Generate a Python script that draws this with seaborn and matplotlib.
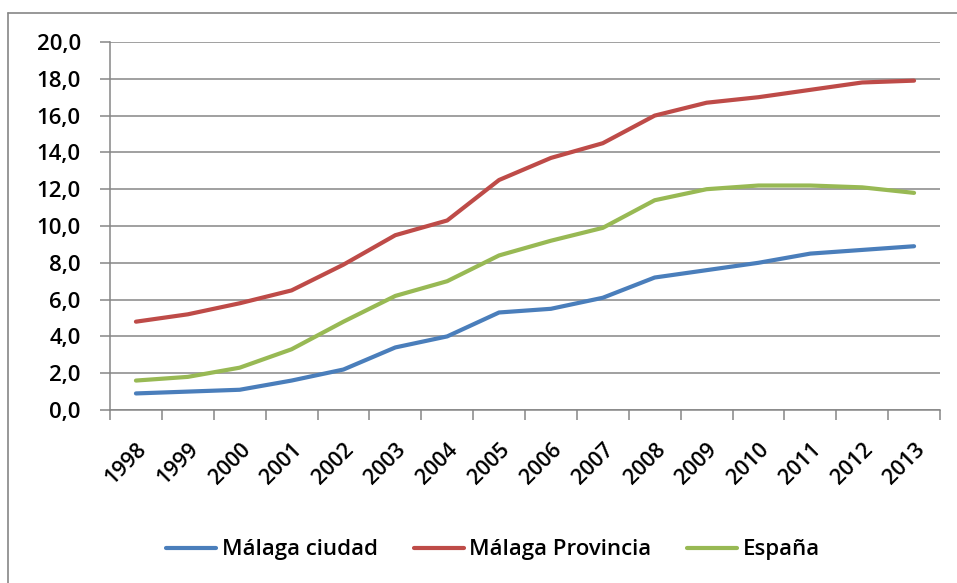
import matplotlib
matplotlib.use("Agg")
import matplotlib.pyplot as plt
import seaborn as sns
import pandas as pd
import numpy as np
from matplotlib.lines import Line2D

years = ["1998", "1999", "2000", "2001", "2002", "2003", "2004", "2005",
         "2006", "2007", "2008", "2009", "2010", "2011", "2012", "2013"]
malaga_ciudad = [0.9, 1.0, 1.1, 1.6, 2.2, 3.4, 4.0, 5.3, 5.5, 6.1, 7.2, 7.6, 8.0, 8.5, 8.7, 8.9]
malaga_provincia = [4.8, 5.2, 5.8, 6.5, 7.9, 9.5, 10.3, 12.5, 13.7, 14.5, 16.0, 16.7, 17.0, 17.4, 17.8, 17.9]
espana = [1.6, 1.8, 2.3, 3.3, 4.8, 6.2, 7.0, 8.4, 9.2, 9.9, 11.4, 12.0, 12.2, 12.2, 12.1, 11.8]
series_names = ["Málaga ciudad", "Málaga Provincia", "España"]
colors = ["#4A7EBB", "#BE4B48", "#98B954"]
y_ticks = [0, 2, 4, 6, 8, 10, 12, 14, 16, 18, 20]

rows = []
for name, vals in zip(series_names, [malaga_ciudad, malaga_provincia, espana]):
    for i, v in enumerate(vals):
        rows.append({"pos": i, "year": years[i], "value": v, "serie": name})
df = pd.DataFrame(rows)

sns.set_theme(style="white")
plt.rcParams['font.family'] = ['Open Sans', 'DejaVu Sans']
plt.rcParams['font.weight'] = 'semibold'

fig = plt.figure(figsize=(9.57, 5.83), dpi=100)
ax = fig.add_axes([110/957, 1-410/583, 830/957, 368/583])

sns.lineplot(data=df, x="pos", y="value", hue="serie", palette=colors,
             hue_order=series_names, linewidth=3.0, ax=ax, legend=True)

n = len(years)
ax.set_xlim(-0.5, n - 0.5)
ax.set_ylim(0, 20)
ax.set_yticks(y_ticks)
ax.set_yticklabels([f"{v:.1f}".replace(".", ",") for v in y_ticks], fontsize=16,
                   color="#000000", fontweight="semibold")
ax.yaxis.grid(True, color="#868686", linewidth=1.1)
ax.set_axisbelow(True)

# major ticks at category boundaries, labels at centres
ax.set_xticks(np.arange(-0.5, n, 1.0))
ax.set_xticklabels([])
ax.set_xticks(np.arange(0, n), minor=True)
ax.set_xticklabels(years, minor=True, rotation=45, ha="right", rotation_mode="anchor",
                   fontsize=15.5, color="#000000", fontweight="semibold")
ax.tick_params(axis="x", which="major", direction="out", length=7, color="#868686", width=1.1, bottom=True)
ax.tick_params(axis="x", which="minor", length=0, pad=21)
ax.tick_params(axis="y", direction="out", length=7, color="#868686", width=1.1, left=True, pad=14)

for s in ["top", "right"]:
    ax.spines[s].set_visible(False)
for s in ["left", "bottom"]:
    ax.spines[s].set_color("#868686")
    ax.spines[s].set_linewidth(1.1)

ax.set_xlabel("")
ax.set_ylabel("")

handles, labels = ax.get_legend_handles_labels()
leg = ax.legend(handles, labels, loc="center", bbox_to_anchor=(493/957, 1-550/583),
                bbox_transform=fig.transFigure, ncol=3, frameon=False,
                prop={"size": 16, "weight": "semibold"},
                handlelength=2.25, handletextpad=0.25, columnspacing=1.6)
for t in leg.get_texts():
    t.set_color("#000000")

# outer chart border (only top and left edges are visible in the reference)
fig.add_artist(Line2D([8/957, 1.0], [1-13/583, 1-13/583], transform=fig.transFigure,
                      color="#868686", linewidth=1.2))
fig.add_artist(Line2D([8/957, 8/957], [0.0, 1-13/583], transform=fig.transFigure,
                      color="#868686", linewidth=1.2))

fig.savefig("out.png", dpi=100)
